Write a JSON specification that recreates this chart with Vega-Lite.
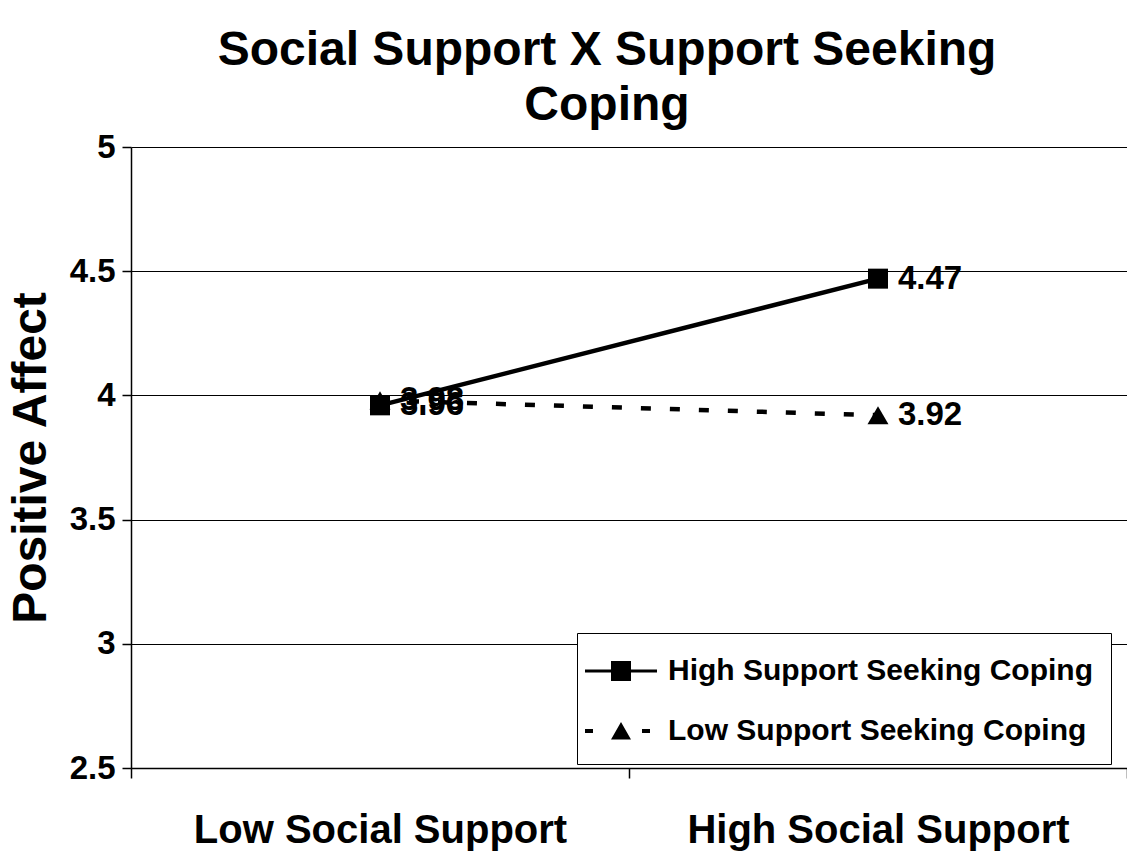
{
  "$schema": "https://vega.github.io/schema/vega-lite/v6.json",
  "width": 996,
  "height": 621,
  "autosize": {"type": "none"},
  "padding": {"left": 131, "top": 147, "right": 0, "bottom": 90},
  "background": "white",
  "title": {
    "text": ["Social Support X Support Seeking", "Coping"],
    "font": "Liberation Sans",
    "fontSize": 48,
    "fontWeight": "bold",
    "color": "black",
    "anchor": "middle",
    "dx": -22,
    "lineHeight": 55,
    "offset": 1
  },
  "data": {
    "values": [
      {"support": "Low Social Support", "series": "High Support Seeking Coping", "value": 3.96},
      {"support": "High Social Support", "series": "High Support Seeking Coping", "value": 4.47},
      {"support": "Low Social Support", "series": "Low Support Seeking Coping", "value": 3.98},
      {"support": "High Social Support", "series": "Low Support Seeking Coping", "value": 3.92}
    ]
  },
  "encoding": {
    "x": {
      "field": "support",
      "type": "nominal",
      "sort": ["Low Social Support", "High Social Support"],
      "scale": {"type": "band", "paddingInner": 0, "paddingOuter": 0},
      "axis": {
        "title": null,
        "labelAngle": 0,
        "labelLimit": 0,
        "labelFont": "Liberation Sans",
        "labelFontSize": 40,
        "labelFontWeight": "bold",
        "labelColor": "black",
        "labelPadding": 32,
        "tickBand": "extent",
        "tickSize": 10,
        "tickColor": "black",
        "tickWidth": 1.5,
        "domainColor": "black",
        "domainWidth": 1.5,
        "grid": false
      }
    },
    "y": {
      "field": "value",
      "type": "quantitative",
      "scale": {"domain": [2.5, 5], "nice": false, "zero": false},
      "axis": {
        "title": "Positive Affect",
        "titleFont": "Liberation Sans",
        "titleFontSize": 48,
        "titleFontWeight": "bold",
        "titleColor": "black",
        "titlePadding": 14,
        "values": [2.5, 3, 3.5, 4, 4.5, 5],
        "format": "~g",
        "labelFont": "Liberation Sans",
        "labelFontSize": 33,
        "labelFontWeight": "bold",
        "labelColor": "black",
        "labelPadding": 7,
        "tickSize": 9,
        "tickColor": "black",
        "tickWidth": 1.5,
        "domainColor": "black",
        "domainWidth": 1.5,
        "grid": true,
        "gridColor": "black",
        "gridWidth": 1.2,
        "gridOpacity": 1
      }
    }
  },
  "layer": [
    {
      "transform": [{"filter": "datum.series === 'High Support Seeking Coping'"}],
      "mark": {"type": "line", "color": "black", "strokeWidth": 4.5},
      "encoding": {}
    },
    {
      "transform": [{"filter": "datum.series === 'Low Support Seeking Coping'"}],
      "mark": {"type": "line", "color": "black", "strokeWidth": 4.5, "strokeDash": [10, 19]},
      "encoding": {}
    },
    {
      "transform": [{"filter": "datum.series === 'High Support Seeking Coping'"}],
      "mark": {"type": "point", "shape": "square", "filled": true, "color": "black", "opacity": 1, "size": 400},
      "encoding": {}
    },
    {
      "transform": [{"filter": "datum.series === 'Low Support Seeking Coping'"}],
      "mark": {"type": "point", "shape": "triangle-up", "filled": true, "color": "black", "opacity": 1, "size": 440},
      "encoding": {}
    },
    {
      "mark": {"type": "point", "filled": true, "color": "black", "opacity": 0, "size": 1600},
      "encoding": {
        "shape": {
          "field": "series",
          "type": "nominal",
          "scale": {
            "domain": ["High Support Seeking Coping", "Low Support Seeking Coping"],
            "range": [
              "M-1.8,-0.08H1.8V0.08H-1.8Z M-0.5,-0.5H0.5V0.5H-0.5Z",
              "M-1.8,-0.1H-1.4V0.1H-1.8Z M1.05,-0.1H1.45V0.1H1.05Z M0,-0.45L0.5,0.42H-0.5Z"
            ]
          },
          "legend": {
            "title": null,
            "orient": "none",
            "legendX": 446,
            "legendY": 486,
            "padding": 18,
            "strokeColor": "black",
            "fillColor": "white",
            "symbolSize": 1600,
            "symbolOpacity": 1,
            "symbolFillColor": "black",
            "symbolStrokeWidth": 0,
            "symbolOffset": 6,
            "labelOffset": 27,
            "rowPadding": 25,
            "labelFont": "Liberation Sans",
            "labelFontSize": 30,
            "labelFontWeight": "bold",
            "labelColor": "black",
            "labelLimit": 0
          }
        }
      }
    },
    {
      "mark": {"type": "text", "align": "left", "baseline": "middle", "dx": 20, "font": "Liberation Sans", "fontSize": 33, "fontWeight": "bold", "color": "black"},
      "encoding": {
        "text": {"field": "value", "type": "quantitative", "format": ".2f"}
      }
    }
  ],
  "config": {
    "view": {"stroke": null}
  }
}
